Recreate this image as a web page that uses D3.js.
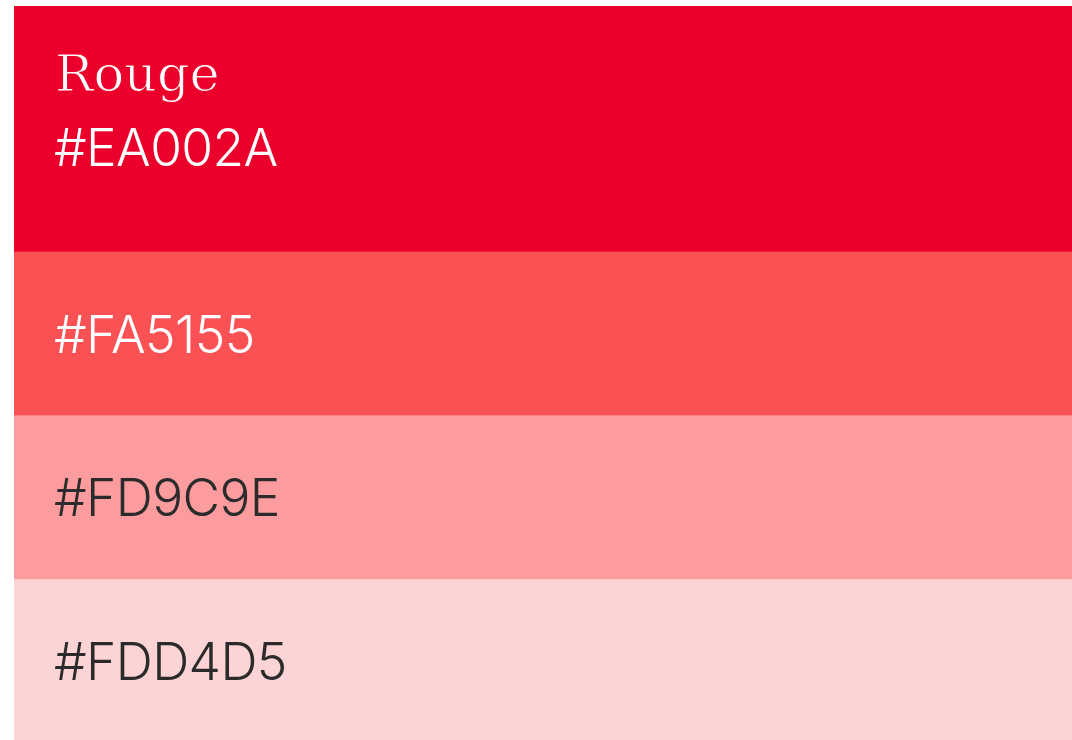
<!DOCTYPE html>
<html>
<head>
<meta charset="utf-8">
<script src="https://cdn.jsdelivr.net/npm/d3@7/dist/d3.min.js"></script>
<style>
  html, body { margin: 0; padding: 0; background: #ffffff; }
  svg { display: block; }
</style>
</head>
<body>
<svg id="chart" width="1072" height="740"></svg>
<script>
// ---- data ----
const swatchColors = ["#EA002A", "#FA5155", "#FD9C9E", "#FDD4D5"];
const swatchLabels = ["#EA002A", "#FA5155", "#FD9C9E", "#FDD4D5"];
const swatchNames  = ["Rouge", "", "", ""];
const textColors   = ["#ffffff", "#ffffff", "#2b2b2b", "#2b2b2b"];

// ---- layout ----
const W = 1072, H = 740;
const padLeft = 14, padTop = 6;
const svg = d3.select("#chart");

const weights = swatchColors.map((c, i) => swatchNames[i] ? 1.5 : 1);
const cum = [0];
weights.forEach(w => cum.push(cum[cum.length - 1] + w));
const y = d3.scaleLinear().domain([0, cum[cum.length - 1]]).range([padTop, H + 3]);
const x = d3.scaleLinear().domain([0, 1]).range([padLeft, W]);

const rows = swatchColors.map((c, i) => ({
  color: c, label: swatchLabels[i], name: swatchNames[i], tc: textColors[i],
  y0: y(cum[i]), y1: y(cum[i + 1])
}));

const g = svg.selectAll("g.sw").data(rows).join("g").attr("class", "sw");

g.append("rect")
  .attr("x", x(0))
  .attr("y", d => d.y0)
  .attr("width", x(1) - x(0))
  .attr("height", d => d.y1 - d.y0 + 0.5)
  .attr("fill", d => d.color);

g.filter(d => d.name).append("text")
  .attr("x", 55)
  .attr("y", d => d.y0 + 85)
  .attr("fill", d => d.tc)
  .attr("stroke", d => d.color)
  .attr("stroke-width", 1.1)
  .style("font-family", "'DejaVu Serif', serif")
  .style("font-size", "51px")
  .text(d => d.name);

g.append("text")
  .attr("x", 54)
  .attr("y", d => d.name ? d.y0 + 160 : (d.y0 + d.y1) / 2 + 19)
  .attr("fill", d => d.tc)
  .style("font-family", "Inter, Roboto, sans-serif")
  .style("font-size", "51.5px")
  .style("font-weight", 300)
  .style("letter-spacing", "-0.6px")
  .text(d => d.label);
</script>
</body>
</html>
